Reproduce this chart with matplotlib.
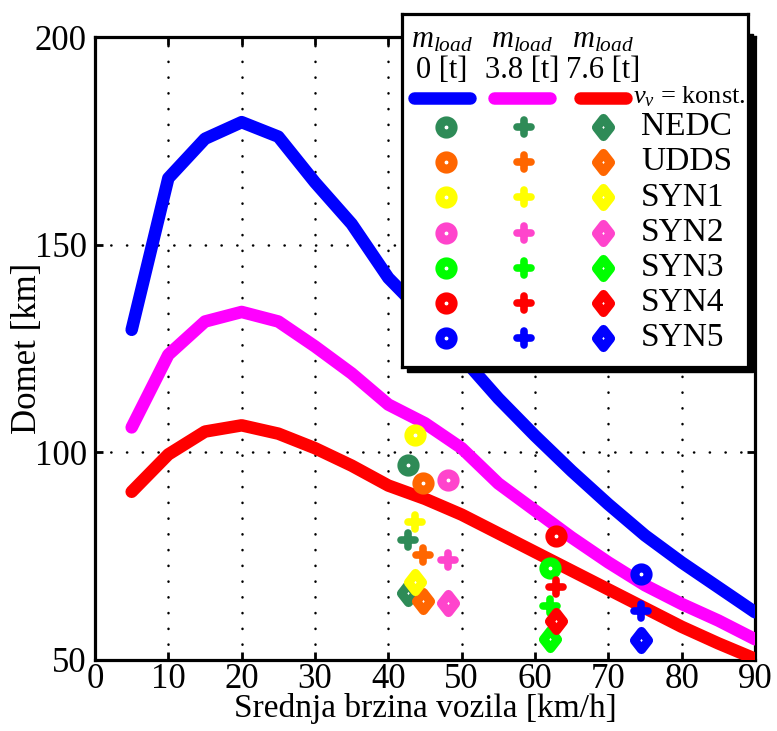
import matplotlib
matplotlib.use('Agg')
import matplotlib.pyplot as plt
from matplotlib.markers import MarkerStyle
from matplotlib.patches import Rectangle
from matplotlib.transforms import Affine2D

plt.rcParams['font.family'] = ['Liberation Serif', 'DejaVu Serif']
plt.rcParams['mathtext.fontset'] = 'custom'
plt.rcParams['mathtext.rm'] = 'Liberation Serif'
plt.rcParams['mathtext.it'] = 'Liberation Serif:italic'

# Konstantna brzina - domet za tri mase tereta
brzine = [5, 10, 15, 20, 25, 30, 35, 40, 45, 50, 55, 60, 65, 70, 75, 80, 85, 90]
domet_0t = [129.5, 166, 175.5, 179.5, 176, 165, 155, 142, 133, 123, 113, 104, 95.5, 87.5, 80, 73.5, 67.5, 61.5]
domet_38t = [106, 123.5, 131.5, 133.8, 131.5, 125.5, 119, 111.5, 107, 101, 92.5, 86, 79.5, 73.5, 68, 63.5, 59.5, 55]
domet_76t = [90.5, 99.5, 105, 106.5, 104.5, 101, 96.8, 92, 88.8, 85, 80.5, 76, 71.5, 67, 62.5, 58, 54, 50.3]

# Vozni ciklusi
ciklusi = ['NEDC', 'UDDS', 'SYN1', 'SYN2', 'SYN3', 'SYN4', 'SYN5']
boje = ['#2E8B57', '#FF6600', '#FFFF00', '#FF44CC', '#00FF00', '#FF0000', '#0000FF']
v_ciklus = [42.7, 44.7, 43.7, 48.2, 62.1, 62.8, 74.5]
d_ciklus_0t = [96.9, 92.5, 104.2, 93.3, 72.1, 79.9, 70.7]
d_ciklus_38t = [78.9, 75.3, 83.3, 74.1, 62.9, 67.5, 61.7]
d_ciklus_76t = [66.1, 64.2, 68.9, 63.7, 55.1, 59.3, 54.9]

W, H = 777, 731
fig = plt.figure(figsize=(W / 100, H / 100), dpi=100)
ax = fig.add_axes([95 / W, 1 - 660 / H, 660 / W, 623 / H])

lw_lin = 9
ax.plot(brzine, domet_0t, color='#0000FF', lw=lw_lin, solid_capstyle='round', zorder=3)
ax.plot(brzine, domet_38t, color='#FF00FF', lw=lw_lin, solid_capstyle='round', zorder=3)
ax.plot(brzine, domet_76t, color='#FF0000', lw=lw_lin, solid_capstyle='round', zorder=3)

krug = dict(marker='o', ms=9.5, mew=6.5, mfc='white', ls='none')
plus = dict(marker=MarkerStyle('+', capstyle='round'), ms=9.6, mew=5.5, ls='none')
romb = dict(marker=MarkerStyle('D', joinstyle='round', transform=Affine2D().scale(0.72, 1.0)),
            ms=9.6, mew=6.6, mfc='white', ls='none')

for i in range(len(ciklusi)):
    ax.plot(v_ciklus[i], d_ciklus_0t[i], mec=boje[i], zorder=4, **krug)
for i in range(len(ciklusi)):
    ax.plot(v_ciklus[i], d_ciklus_38t[i], color=boje[i], mec=boje[i], zorder=4, **plus)
for i in range(len(ciklusi)):
    ax.plot(v_ciklus[i], d_ciklus_76t[i], mec=boje[i], zorder=4, **romb)

ax.set_xlim(0, 90)
ax.set_ylim(50, 200)
ax.set_xticks(range(0, 91, 10))
ax.set_yticks([50, 100, 150, 200])
ax.grid(True, color='black', lw=1.8, ls=(0, (0.1, 6.2)))
for g in ax.get_xgridlines() + ax.get_ygridlines():
    g.set_dash_capstyle('round')
ax.tick_params(direction='in', length=6, width=2, labelsize=25, top=True, right=True, pad=6)
ax.tick_params(axis='x', pad=2)
for s in ax.spines.values():
    s.set_linewidth(2.3)
ax.set_xlabel('Srednja brzina vozila [km/h]', fontsize=24)
ax.set_ylabel('Domet [km]', fontsize=25)
ax.xaxis.set_label_coords(0.5, -(693 - 660) / 623)
ax.yaxis.set_label_coords(-(95 - 44) / 660, 0.5)

# Legenda (okvir sa sjenom)
fig.patches.append(Rectangle((407 / W, 1 - 372 / H), 346 / W, 338 / H, transform=fig.transFigure,
                             facecolor='black', edgecolor='black', zorder=5))
lg = fig.add_axes([402 / W, 1 - 367 / H, 346 / W, 353 / H], zorder=6)
lg.set_xlim(402, 748)
lg.set_ylim(367, 14)
lg.set_xticks([])
lg.set_yticks([])
for s in lg.spines.values():
    s.set_linewidth(2.3)

stupci = [442, 522, 603]
mase = ['0 [t]', '3.8 [t]', '7.6 [t]']
boje_lin = ['#0000FF', '#FF00FF', '#FF0000']
duljine = [28, 28, 23]
for x, m, c, d in zip(stupci, mase, boje_lin, duljine):
    lg.text(x, 40, r'$m_{load}$', ha='center', va='center', fontsize=22)
    lg.text(x, 71, m, ha='center', va='center', fontsize=22)
    lg.plot([x - d, x + d], [98, 98], color=c, lw=lw_lin, solid_capstyle='round')
lg.text(633, 97, r'$v_v$ = konst.', ha='left', va='center', fontsize=19)

for j, (naziv, boja) in enumerate(zip(ciklusi, boje)):
    y = 127 + j * 35.2
    lg.plot(446, y, mec=boja, **krug)
    lg.plot(524, y, color=boja, mec=boja, **plus)
    lg.plot(603, y, mec=boja, **romb)
    lg.text(641, y, naziv, ha='left', va='center', fontsize=24)

fig.savefig('out.png', dpi=100)
